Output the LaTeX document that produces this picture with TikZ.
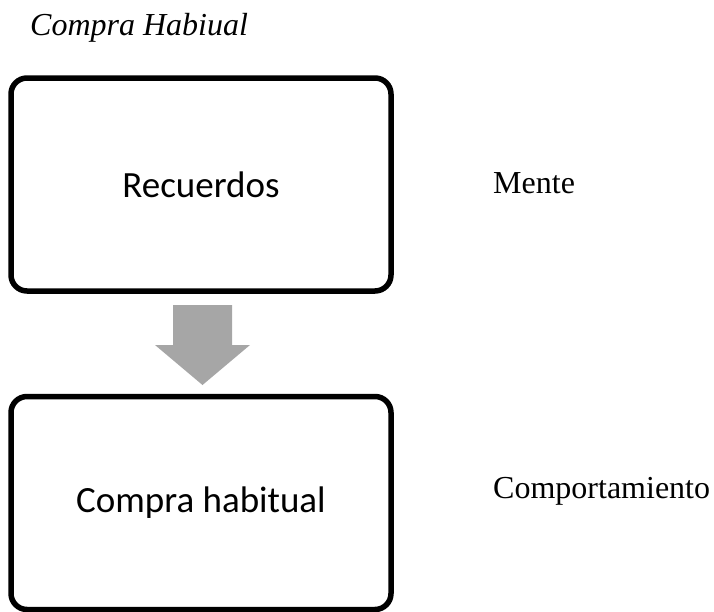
\documentclass[tikz,border=0pt]{standalone}
\usepackage{fontspec}
\setmainfont{Liberation Serif}
\newfontfamily\calibri{Carlito}
\definecolor{arrowgray}{RGB}{166,166,166}

\tikzset{
  box/.style={draw=black,line width=5.5pt,rounded corners=16pt,minimum width=380pt,minimum height=213pt,inner sep=0pt,font=\calibri\fontsize{37}{44}\selectfont},
  side/.style={anchor=base west,inner sep=0pt,font=\fontsize{32}{38}\selectfont}
}
\tikzstyle{every node}=[color=black]

\begin{document}
\begin{tikzpicture}[x=1pt,y=-1pt]
    \useasboundingbox (0,0) rectangle (714,611);
    \node[side,font=\itshape\fontsize{32}{38}\selectfont] (T) at (30,35) {Compra Habiual};
    \node[box] (A) at (201,184.5) {Recuerdos};
    \node[box] (B) at (201,503) {Compra habitual};
    \node[side] (M) at (493,193) {Mente};
    \node[side] (C) at (493,498) {Comportamiento};
    \fill[arrowgray] (173,305) -- (232,305) -- (232,345) -- (250,345) -- (202.5,385) -- (155,345) -- (173,345) -- cycle;
\end{tikzpicture}
\end{document}
